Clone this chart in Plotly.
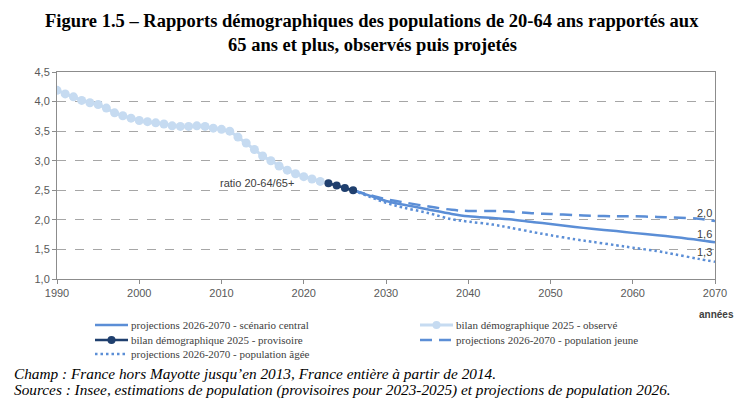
import plotly.graph_objects as go

# ratio 20-64 ans / 65 ans et plus
obs_years = list(range(1990, 2023))
obs_ratio = [4.19, 4.13, 4.08, 4.02, 3.98, 3.95, 3.89, 3.81, 3.76, 3.72,
             3.68, 3.66, 3.64, 3.62, 3.59, 3.58, 3.58, 3.59, 3.58, 3.55,
             3.53, 3.50, 3.40, 3.30, 3.19, 3.08, 3.00, 2.91, 2.84, 2.78,
             2.73, 2.69, 2.65]

prov_years = [2023, 2024, 2025, 2026]
prov_ratio = [2.62, 2.58, 2.54, 2.50]

proj_years = [2026, 2028, 2030, 2032, 2035, 2038, 2040, 2043, 2045, 2048,
              2050, 2053, 2055, 2058, 2060, 2063, 2065, 2068, 2070]
central = [2.50, 2.41, 2.32, 2.26, 2.18, 2.10, 2.06, 2.03, 2.01, 1.96,
           1.93, 1.88, 1.85, 1.81, 1.78, 1.74, 1.71, 1.66, 1.62]
jeune = [2.50, 2.42, 2.35, 2.30, 2.23, 2.17, 2.15, 2.15, 2.14, 2.11,
         2.10, 2.08, 2.07, 2.06, 2.06, 2.05, 2.04, 2.02, 1.98]
agee = [2.50, 2.39, 2.29, 2.21, 2.12, 2.01, 1.97, 1.92, 1.87, 1.79,
        1.74, 1.67, 1.63, 1.57, 1.53, 1.47, 1.42, 1.34, 1.29]

end_labels = ["2,0", "1,6", "1,3"]
end_label_y = [2.12, 1.76, 1.455]

C_PROJ = "#5B8ED6"
C_OBS = "#C6DBF1"
C_PROV = "#1F3F6E"
GRID = "#A6A6A6"

# the page adds an 8px body margin, positions below are given in window pixels
OFF = 8
L, T, W, H = 57 - OFF, 72 - OFF, 658, 207


def px2paper(px, py):
    return (px - OFF - L) / W, (T + H - (py - OFF)) / H


fig = go.Figure()
fig.add_trace(go.Scatter(x=obs_years, y=obs_ratio, mode="lines+markers",
                         line=dict(color=C_OBS, width=3),
                         marker=dict(color=C_OBS, size=9)))
fig.add_trace(go.Scatter(x=proj_years, y=agee, mode="lines", line_shape="spline",
                         line=dict(color=C_PROJ, width=2.5, dash="2.5px,3px")))
fig.add_trace(go.Scatter(x=proj_years, y=jeune, mode="lines", line_shape="spline",
                         line=dict(color=C_PROJ, width=2.5, dash="12px,7px")))
fig.add_trace(go.Scatter(x=proj_years, y=central, mode="lines", line_shape="spline",
                         line=dict(color=C_PROJ, width=2.5)))
fig.add_trace(go.Scatter(x=prov_years, y=prov_ratio, mode="lines+markers",
                         line=dict(color=C_PROV, width=2.5),
                         marker=dict(color=C_PROV, size=8)))

serif = dict(family="Liberation Serif", color="black")
annotations = []

tx, ty1 = px2paper(372, 21)
_, ty2 = px2paper(372, 45)
annotations.append(dict(x=tx, y=ty1, xref="paper", yref="paper", showarrow=False,
                        text="<b>Figure 1.5 – Rapports démographiques des populations de 20-64 ans "
                             "rapportés aux</b>",
                        xanchor="center", yanchor="middle", font=dict(size=18.5, **serif)))
annotations.append(dict(x=tx, y=ty2, xref="paper", yref="paper", showarrow=False,
                        text="<b>65 ans et plus, observés puis projetés</b>",
                        xanchor="center", yanchor="middle", font=dict(size=18.5, **serif)))

annotations.append(dict(x=2019, y=2.62, xref="x", yref="y", text="ratio 20-64/65+",
                        showarrow=False, xanchor="right", yanchor="middle",
                        font=dict(size=11, color="#404040")))
for lab, ly in zip(end_labels, end_label_y):
    annotations.append(dict(x=2070, y=ly, xref="x", yref="y", text=lab, showarrow=False,
                            xanchor="right", yanchor="middle", xshift=-1,
                            font=dict(size=11, color="#404040")))

ax, ay = px2paper(736, 314)
annotations.append(dict(x=ax, y=ay, xref="paper", yref="paper", text="<b>années</b>",
                        showarrow=False, xanchor="right", yanchor="middle",
                        font=dict(size=10, color="#404040")))

fx, fy1 = px2paper(12, 373)
_, fy2 = px2paper(12, 390)
annotations.append(dict(x=fx, y=fy1, xref="paper", yref="paper", showarrow=False,
                        text="<i>Champ : France hors Mayotte jusqu’en 2013, France entière "
                             "à partir de 2014.</i>",
                        xanchor="left", yanchor="middle", font=dict(size=15.3, **serif)))
annotations.append(dict(x=fx, y=fy2, xref="paper", yref="paper", showarrow=False,
                        text="<i>Sources : Insee, estimations de population (provisoires pour "
                             "2023-2025) et projections de population 2026.</i>",
                        xanchor="left", yanchor="middle", font=dict(size=15.3, **serif)))

# hand-made legend (two columns, like the original)
shapes = []
legend_items = [
    # (px_x, px_y, text, color, width, dash, marker)
    (95, 325, "projections 2026-2070 - scénario central", C_PROJ, 2.5, "solid", False),
    (420, 325, "bilan démographique 2025 - observé", C_OBS, 3, "solid", True),
    (95, 340, "bilan démographique 2025 - provisoire", C_PROV, 2.5, "solid", True),
    (420, 340, "projections 2026-2070 - population jeune", C_PROJ, 2.5, "12px,7px", False),
    (95, 354, "projections 2026-2070 - population âgée", C_PROJ, 2.5, "2.5px,3px", False),
]
for px, py, txt, col, lw, dash, mk in legend_items:
    x0, y0 = px2paper(px, py)
    x1, _ = px2paper(px + 33, py)
    shapes.append(dict(type="line", xref="paper", yref="paper", x0=x0, x1=x1, y0=y0, y1=y0,
                       line=dict(color=col, width=lw, dash=dash)))
    if mk:
        xm, _ = px2paper(px + 16.5, py)
        shapes.append(dict(type="circle", xref="paper", yref="paper",
                           xsizemode="pixel", ysizemode="pixel", xanchor=xm, yanchor=y0,
                           x0=-4, x1=4, y0=-4, y1=4, fillcolor=col, line=dict(width=0)))
    xt, _ = px2paper(px + 34, py)
    annotations.append(dict(x=xt, y=y0, xref="paper", yref="paper", text=txt, showarrow=False,
                            xanchor="left", yanchor="middle",
                            font=dict(family="Liberation Sans Narrow", size=11, color="#404040")))

fig.update_layout(
    width=744, height=420,
    margin=dict(l=L, r=744 - L - W, t=T, b=420 - T - H),
    paper_bgcolor="white", plot_bgcolor="white",
    showlegend=False,
    separators=",.",
    font=dict(family="Liberation Sans", size=11, color="#595959"),
    xaxis=dict(range=[1990, 2070], dtick=10, tick0=1990, showgrid=False, zeroline=False,
               showline=True, linecolor="#8C8C8C", mirror=True, ticks="outside",
               ticklen=4, tickcolor="#8C8C8C"),
    yaxis=dict(range=[1, 4.5], dtick=0.5, tickformat=".1f", showgrid=True, gridcolor=GRID,
               griddash="dash", zeroline=False, showline=True, linecolor="#8C8C8C",
               mirror=True, ticks="outside", ticklen=4, tickcolor="#8C8C8C"),
    annotations=annotations,
    shapes=shapes,
)

fig.write_html("out.html")
